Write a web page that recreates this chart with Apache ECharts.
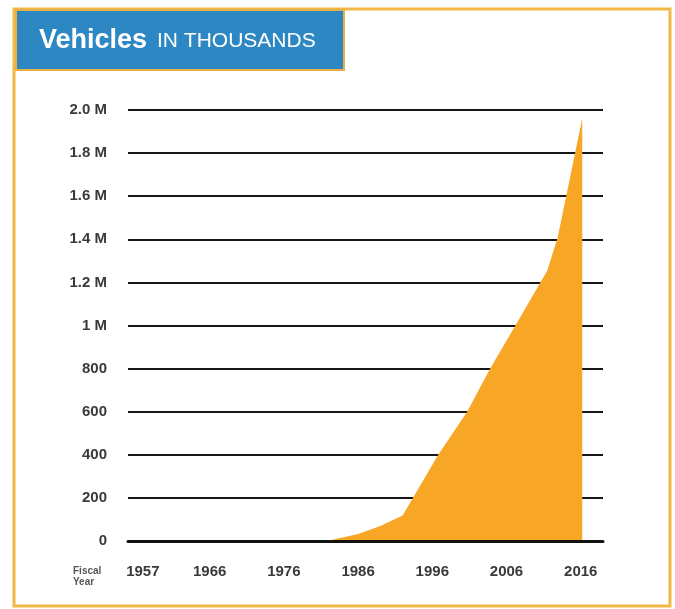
<!DOCTYPE html>
<html>
<head>
<meta charset="utf-8">
<script src="https://cdn.jsdelivr.net/npm/echarts@6/dist/echarts.min.js"></script>
<style>html,body{margin:0;padding:0;background:#fff;}#c{width:675px;height:609px;}</style>
</head>
<body>
<div id="c"></div>
<script>
// Fiscal year (x) and vehicles in thousands (y)
var years    = [1981.8, 1986, 1989, 1992, 1996.8, 2000.7, 2003.8, 2007.2, 2011.5, 2012.9, 2016.2];
var vehicles = [0,      32,   70,   118,  400,    600,    800,    1000,   1255,   1410,   1960];
var xTickYears = [1957, 1966, 1976, 1986, 1996, 2006, 2016];
var yTickValues = [0, 200, 400, 600, 800, 1000, 1200, 1400, 1600, 1800, 2000];
var yTickLabels = ['0', '200', '400', '600', '800', '1 M', '1.2 M', '1.4 M', '1.6 M', '1.8 M', '2.0 M'];

var FONT = '"Liberation Sans", Arial, Helvetica, sans-serif';
var seriesData = years.map(function (y, i) { return [y, vehicles[i]]; });

var chart = echarts.init(document.getElementById('c'), null, {renderer: 'canvas'});
chart.setOption({
  animation: false,
  backgroundColor: '#ffffff',
  grid: {left: 128, right: 72, top: 110, bottom: 68, containLabel: false},
  xAxis: {
    type: 'value', min: 1955, max: 2019, z: 5,
    axisLine: {show: true, onZero: true, lineStyle: {color: '#111', width: 3}},
    axisTick: {show: false},
    splitLine: {show: false},
    axisLabel: {
      customValues: xTickYears,
      margin: 23,
      color: '#3a3a3a', fontFamily: FONT, fontWeight: 'bold', fontSize: 15,
      formatter: function (v) { return String(v); }
    }
  },
  yAxis: {
    type: 'value', min: 0, max: 2000, interval: 200, z: 0,
    axisLine: {show: false},
    axisTick: {show: false},
    splitLine: {show: true, lineStyle: {color: '#161616', width: 2}},
    axisLabel: {
      margin: 21,
      color: '#3a3a3a', fontFamily: FONT, fontWeight: 'bold', fontSize: 15,
      formatter: function (v) {
        var i = yTickValues.indexOf(v);
        return i >= 0 ? yTickLabels[i] : '';
      }
    }
  },
  series: [{
    type: 'line',
    data: seriesData,
    symbol: 'none',
    z: 2,
    lineStyle: {width: 0, opacity: 0},
    areaStyle: {color: '#f7a626', opacity: 1}
  }],
  graphic: [
    {type: 'rect', z: 0, shape: {x: 14, y: 9, width: 656, height: 597},
     style: {fill: 'none', stroke: '#f2b846', lineWidth: 3}},
    {type: 'rect', z: 10, shape: {x: 16, y: 10, width: 328, height: 60},
     style: {fill: '#2c87c2', stroke: '#e9b04a', lineWidth: 2}},
    {type: 'text', z: 11, x: 39, y: 54,
     style: {text: 'Vehicles', fill: '#ffffff', font: 'bold 27px ' + FONT, textVerticalAlign: 'bottom', textAlign: 'left'}},
    {type: 'text', z: 11, x: 157, y: 52,
     style: {text: 'IN THOUSANDS', fill: '#ffffff', font: '21px ' + FONT, textVerticalAlign: 'bottom', textAlign: 'left'}},
    {type: 'text', z: 11, x: 73, y: 566,
     style: {text: 'Fiscal\nYear', fill: '#555555', font: 'bold 10px ' + FONT, lineHeight: 11, textVerticalAlign: 'top', textAlign: 'left'}}
  ]
});
</script>
</body>
</html>
